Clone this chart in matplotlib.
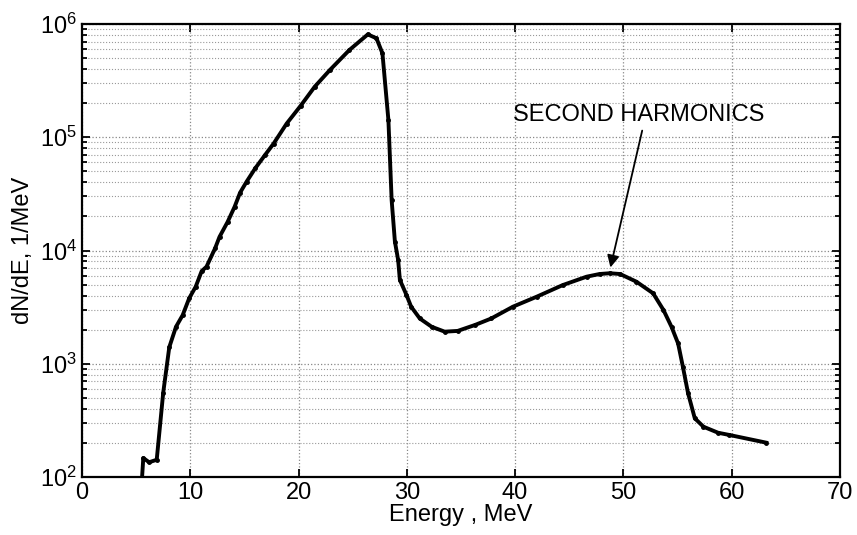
import numpy as np
import matplotlib
matplotlib.use('Agg')
import matplotlib.pyplot as plt
from matplotlib.ticker import LogLocator, NullFormatter

plt.rcParams['font.family'] = ['Liberation Sans', 'DejaVu Sans']
plt.rcParams['mathtext.fontset'] = 'custom'
plt.rcParams['mathtext.rm'] = 'Liberation Sans'
plt.rcParams['mathtext.it'] = 'Liberation Sans'

# spectrum
energy = [5.4, 5.66, 6.2, 6.9, 7.5, 8.06, 8.68, 9.3, 9.9, 10.5, 11.05, 11.5,
          12.3, 12.7, 13.45, 14.1, 14.6, 15.2, 16.0, 16.9, 17.7, 18.9, 20.2,
          21.5, 22.9, 24.7, 26.4, 27.2, 27.75, 28.3, 28.6, 28.9, 29.2, 29.36,
          29.97, 30.4, 31.2, 32.3, 33.5, 34.7, 36.3, 37.8, 39.8, 42.0, 44.4,
          46.6, 47.8, 48.75, 49.7, 51.2, 52.75, 53.7, 54.45, 55.06, 55.5,
          55.98, 56.6, 57.4, 58.75, 59.8, 63.2]
dnde = [60, 147, 135, 142, 555, 1400, 2120, 2690, 3790, 4790, 6570, 7200,
        10500, 13200, 17900, 24400, 32400, 40500, 53200, 69600, 88000, 132000,
        190000, 280000, 393000, 590000, 810000, 748000, 551000, 142000, 27900,
        12000, 8240, 5500, 4050, 3190, 2510, 2120, 1920, 1950, 2200, 2510,
        3190, 3910, 4950, 5870, 6200, 6300, 6200, 5310, 4190, 2990, 2120,
        1510, 942, 548, 330, 278, 246, 235, 201]

x_ticks = [0, 10, 20, 30, 40, 50, 60, 70]
note_text = 'SECOND HARMONICS'
note_tip = (48.75, 6700)
note_tail = (51.8, 121000)
note_pos = (39.8, 157000)

fig = plt.figure(figsize=(8.57, 5.35), dpi=100)
ax = fig.add_axes([0.0957, 0.1084, 0.8843, 0.8467])

ax.plot(energy, dnde, color='black', linewidth=2.8, marker='.', markersize=5)

ax.set_yscale('log')
ax.set_xlim(0, 70)
ax.set_ylim(1e2, 1e6)
ax.set_xticks(x_ticks)
ax.yaxis.set_major_locator(LogLocator(base=10, numticks=10))
ax.yaxis.set_minor_locator(LogLocator(base=10, subs=np.arange(2, 10), numticks=20))
ax.yaxis.set_minor_formatter(NullFormatter())

ax.grid(True, which='major', axis='both', linestyle=':', color='#888888', linewidth=0.9)
ax.grid(True, which='minor', axis='y', linestyle=':', color='#999999', linewidth=0.8)

ax.tick_params(which='both', direction='in', top=True, right=True, labelsize=17, width=1.3)
ax.tick_params(which='major', length=6)
ax.tick_params(which='minor', length=3.5)
for s in ax.spines.values():
    s.set_linewidth(1.6)

ax.set_xlabel('Energy , MeV', fontsize=17, labelpad=0)
ax.set_ylabel('dN/dE, 1/MeV', fontsize=17, labelpad=4)

ax.annotate('', xy=note_tip, xytext=note_tail,
            arrowprops=dict(arrowstyle='-|>', color='black', lw=1.3, mutation_scale=18))
ax.text(note_pos[0], note_pos[1], note_text, fontsize=17, va='center', ha='left')

fig.savefig('out.png', dpi=100)
